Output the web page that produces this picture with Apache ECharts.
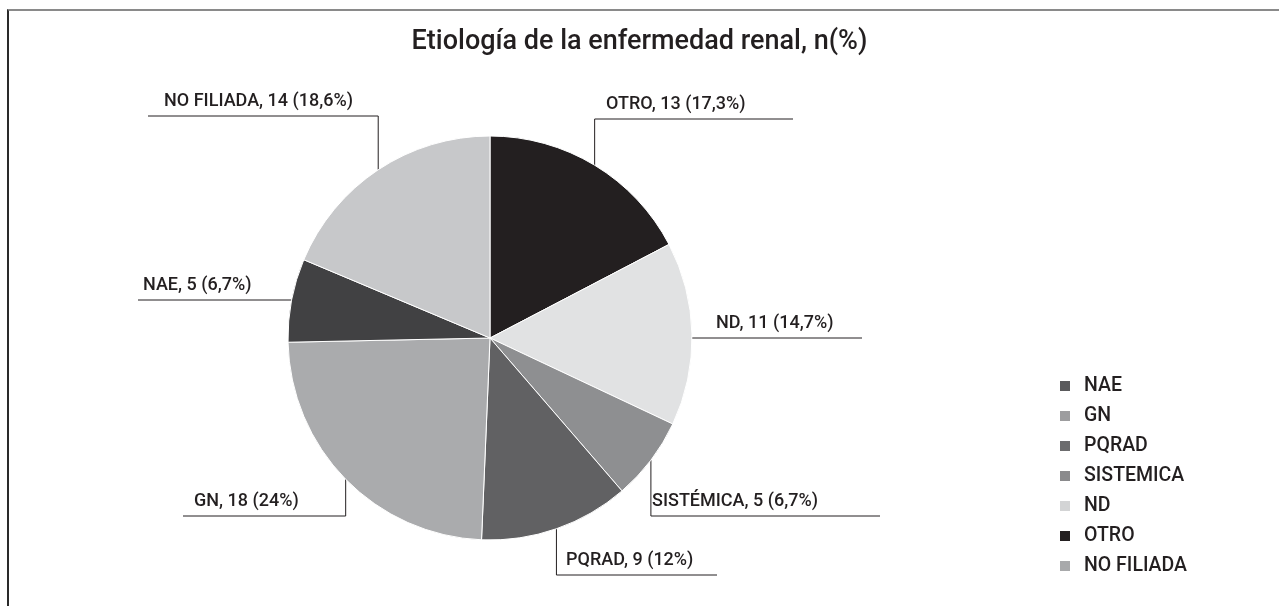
<!DOCTYPE html>
<html>
<head>
<meta charset="utf-8">
<title>Etiología de la enfermedad renal</title>
<script src="https://cdn.jsdelivr.net/npm/echarts@6/dist/echarts.min.js"></script>
<style>
  html, body { margin: 0; padding: 0; background: #fff; }
  #frame {
    position: absolute;
    left: 7px;
    top: 9px;
    right: -10px;
    bottom: -10px;
    border-top: 2px solid #8a8a8a;
    border-left: 2px solid #2a2a2a;
  }
  #chart { position: absolute; left: 0; top: 0; width: 1279px; height: 606px; }
</style>
</head>
<body>
<div id="frame"></div>
<div id="chart"></div>
<script>
// pie order, clockwise from 12 o'clock
const categories = ['OTRO', 'ND', 'SISTEMICA', 'PQRAD', 'GN', 'NAE', 'NO FILIADA']
const labelNames = ['OTRO', 'ND', 'SISTÉMICA', 'PQRAD', 'GN', 'NAE', 'NO FILIADA']
const counts = [13, 11, 5, 9, 18, 5, 14]
const percents = ['17,3%', '14,7%', '6,7%', '12%', '24%', '6,7%', '18,6%']
const legendOrder = ['NAE', 'GN', 'PQRAD', 'SISTEMICA', 'ND', 'OTRO', 'NO FILIADA']

const sliceColors = ['#231f20', '#e1e2e3', '#8e8f91', '#616163', '#aaabad', '#414143', '#c7c8ca']
const legendColors = {
  'NAE': '#5a5a5c', 'GN': '#9d9d9f', 'PQRAD': '#6c6c6e', 'SISTEMICA': '#8a8a8c',
  'ND': '#d3d4d5', 'OTRO': '#231f20', 'NO FILIADA': '#a8a9ab'
}

// label placement: [text left x, leader line y, leader far end x]
const labelPlace = [
  [606, 119, 793],
  [716, 338, 862],
  [652, 516, 880],
  [566, 575, 717],
  [194, 516, 183],
  [143, 300, 138],
  [164, 116, 148]
]

const cx = 490, cy = 338, R = 202
const total = counts.reduce((a, b) => a + b, 0)

// point on the slice edge at the middle angle
function edgePoint (i) {
  let before = 0
  for (let k = 0; k < i; k++) before += counts[k]
  const mid = (before + counts[i] / 2) / total * Math.PI * 2
  return [cx + R * Math.sin(mid), cy - R * Math.cos(mid)]
}

const chart = echarts.init(document.getElementById('chart'))
const font = 'Roboto, "Liberation Sans", sans-serif'

const option = {
  backgroundColor: 'transparent',
  animation: false,
  title: {
    text: 'Etiología de la enfermedad renal, n(%)',
    left: 'center',
    top: 24,
    textStyle: { fontFamily: font, fontSize: 27, fontWeight: 500, color: '#231f20' }
  },
  legend: {
    orient: 'vertical',
    left: 1058,
    top: 376,
    padding: 0,
    icon: 'rect',
    itemWidth: 12,
    itemHeight: 12,
    itemGap: 10,
    textStyle: { fontFamily: font, fontSize: 19.5, fontWeight: 500, color: '#231f20', lineHeight: 18, padding: [0, 0, 0, 8] },
    data: legendOrder.map(n => ({ name: n, itemStyle: { color: legendColors[n] } }))
  },
  series: [{
    type: 'pie',
    center: [cx, cy],
    radius: R,
    startAngle: 90,
    clockwise: true,
    data: categories.map((c, i) => ({
      name: c,
      value: counts[i],
      itemStyle: { color: sliceColors[i] }
    })),
    itemStyle: { borderColor: '#fff', borderWidth: 1 },
    label: {
      show: true,
      position: 'outside',
      fontFamily: font,
      fontSize: 18,
      fontWeight: 500,
      color: '#231f20',
      formatter: p => labelNames[p.dataIndex] + ', ' + counts[p.dataIndex] + ' (' + percents[p.dataIndex] + ')'
    },
    labelLine: { show: true, lineStyle: { color: '#231f20', width: 1 } },
    labelLayout: params => {
      const i = params.dataIndex
      const [tx, ly, ex] = labelPlace[i]
      const p0 = edgePoint(i)
      let pts
      if (Math.abs(p0[1] - ly) < 6) {
        pts = [[p0[0], ly], [ex, ly]]
      } else {
        pts = [p0, [p0[0], ly], [ex, ly]]
      }
      return {
        x: tx,
        y: ly - 6,
        align: 'left',
        verticalAlign: 'bottom',
        labelLinePoints: pts
      }
    },
    emphasis: { disabled: true }
  }]
}

chart.setOption(option)
</script>
</body>
</html>
